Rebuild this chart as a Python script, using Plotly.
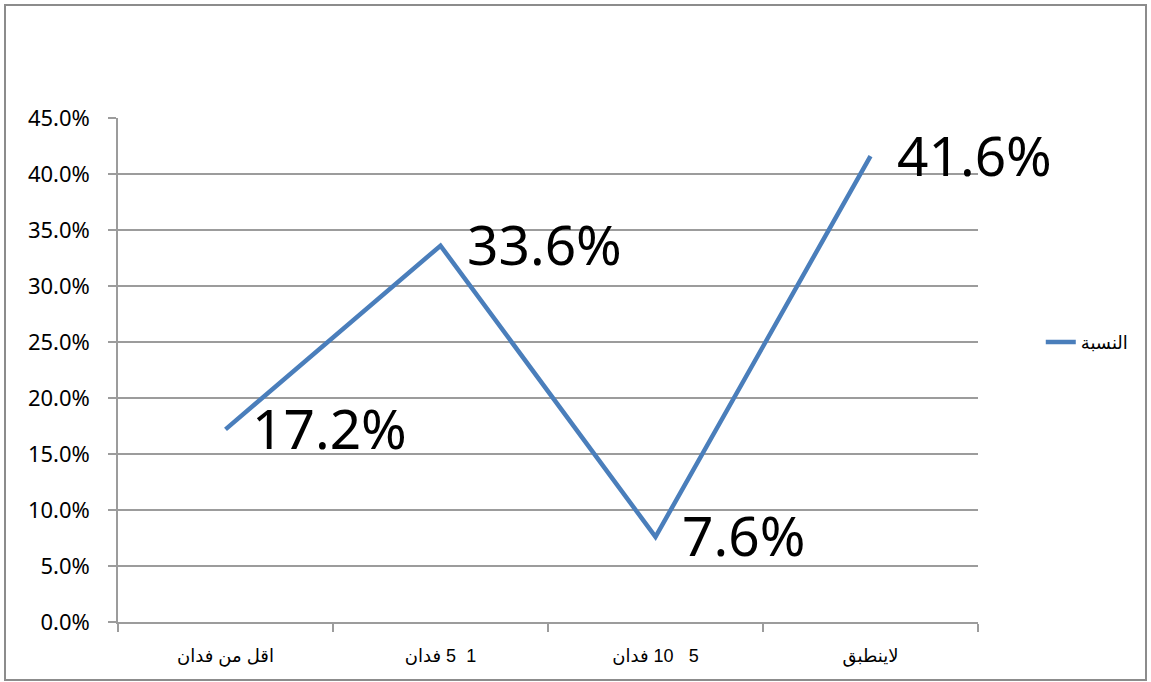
import plotly.graph_objects as go

categories = ["اقل من فدان", "\u202b1  5 فدان\u202c", "\u202b5   10 فدان\u202c", "لاينطبق"]
values = [0.172, 0.336, 0.076, 0.416]
value_labels = ["17.2%", "33.6%", "7.6%", "41.6%"]
series_name = "النسبة"
y_ticks = [0, 0.05, 0.10, 0.15, 0.20, 0.25, 0.30, 0.35, 0.40, 0.45]

W, H = 1151, 682
L, R, T, B = 118, 173, 118, 60
pw, ph = W - L - R, H - T - B

fig = go.Figure()
fig.add_trace(go.Scatter(
    x=categories, y=values, mode="lines", name=series_name,
    line=dict(color="#4A7EBB", width=4.5),
))
for c, v, t in zip(categories, values, value_labels):
    fig.add_annotation(x=c, y=v, text=t, showarrow=False, xanchor="left", yanchor="middle",
                       xshift=24, yshift=2,
                       font=dict(family="Noto Sans", size=55, color="#000000"))

grid = "#9c9c9c"
fig.update_layout(
    width=W, height=H,
    margin=dict(l=L, r=R, t=T, b=B),
    paper_bgcolor="white", plot_bgcolor="white",
    showlegend=True,
    legend=dict(x=1.073, y=0.555, xanchor="left", yanchor="middle",
                font=dict(family="Liberation Sans, DejaVu Sans", size=18, color="#000000"),
                bgcolor="rgba(0,0,0,0)"),
    xaxis=dict(type="category", range=[-0.5, 3.5], showgrid=False, showline=True,
               linecolor=grid, linewidth=1.5,
               ticks="outside", tickson="boundaries", ticklen=8, tickcolor=grid, tickwidth=1.5,
               tickfont=dict(family="Liberation Sans, DejaVu Sans", size=18, color="#000000"),
               ticklabelstandoff=17, fixedrange=True),
    yaxis=dict(range=[0, 0.45], tickvals=y_ticks, tickformat=".1%",
               showgrid=True, gridcolor=grid, gridwidth=1.5, zeroline=False,
               showline=True, linecolor=grid, linewidth=1.5,
               ticks="outside", ticklen=8, tickcolor=grid, tickwidth=1.5,
               tickfont=dict(family="Noto Sans", size=22, color="#000000"),
               ticklabelstandoff=14, fixedrange=True),
)

fig.add_shape(type="rect", xref="paper", yref="paper",
              x0=(5 - L) / pw, x1=(1146 - L) / pw,
              y0=(H - B - 680) / ph, y1=(H - B - 5) / ph,
              line=dict(color="#8c8c8c", width=2), fillcolor="rgba(0,0,0,0)", layer="below")

fig.write_html("out.html", config={"displayModeBar": False},
               post_script="document.body.style.margin='0';")
